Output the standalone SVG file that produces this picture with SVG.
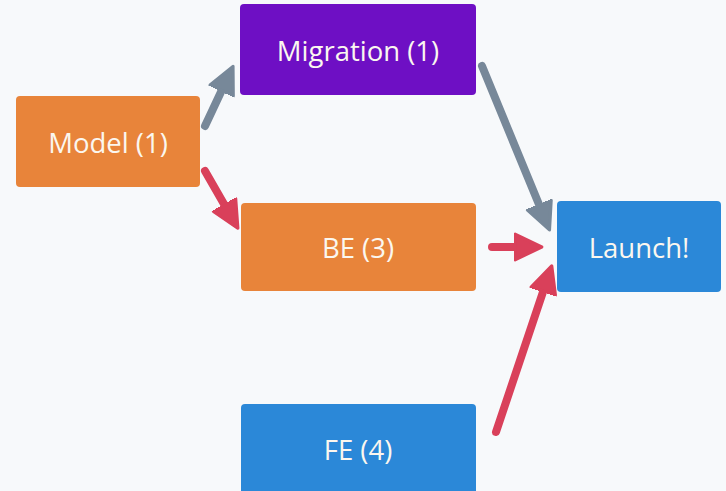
<svg xmlns="http://www.w3.org/2000/svg" width="726" height="491" viewBox="0 0 726 491">
<defs>
<style>
.n text{font-family:"Open Sans","Noto Sans",sans-serif;font-size:27.5px;fill:#fbf7ef;text-anchor:middle;dominant-baseline:central}
.e{fill:none;stroke-width:8;stroke-linecap:round}
.g{stroke:#778899}
.r{stroke:#d9405a}
</style>
<marker id="ag" markerUnits="userSpaceOnUse" markerWidth="32" markerHeight="32" viewBox="-15 -14 30 28" refX="0" refY="0" orient="auto">
<path d="M-14,-12 L11,0 L-14,12 Z" fill="#778899" stroke="#778899" stroke-width="3" stroke-linejoin="round"/>
</marker>
<marker id="ar" markerUnits="userSpaceOnUse" markerWidth="32" markerHeight="32" viewBox="-15 -14 30 28" refX="0" refY="0" orient="auto">
<path d="M-14,-12 L11,0 L-14,12 Z" fill="#d9405a" stroke="#d9405a" stroke-width="3" stroke-linejoin="round"/>
</marker>
</defs>
<rect width="726" height="491" fill="#f7f9fb"/>
<g id="connectors">
<line class="e g" x1="205" y1="126" x2="228" y2="77" marker-end="url(#ag)"/>
<line class="e r" x1="205" y1="171" x2="232" y2="218" marker-end="url(#ar)"/>
<line class="e g" x1="482" y1="66" x2="545" y2="219" marker-end="url(#ag)"/>
<line class="e r" x1="492" y1="247" x2="530" y2="247" marker-end="url(#ar)"/>
<line class="e r" x1="496" y1="432" x2="548" y2="277" marker-end="url(#ar)"/>
</g>
<g id="model" class="n"><rect x="16" y="96" width="184" height="91" rx="4" fill="#e8843a"/><text x="108" y="142">Model (1)</text></g>
<g id="migration" class="n"><rect x="240" y="4" width="236" height="91" rx="4" fill="#6e0fc4"/><text x="358" y="50">Migration (1)</text></g>
<g id="be" class="n"><rect x="241" y="203" width="235" height="88" rx="4" fill="#e8843a"/><text x="358" y="247">BE (3)</text></g>
<g id="fe" class="n"><rect x="241" y="404" width="235" height="95" rx="4" fill="#2b88d8"/><text x="358" y="449">FE (4)</text></g>
<g id="launch" class="n"><rect x="557" y="201" width="164" height="91" rx="4" fill="#2b88d8"/><text x="639" y="247">Launch!</text></g>
</svg>
